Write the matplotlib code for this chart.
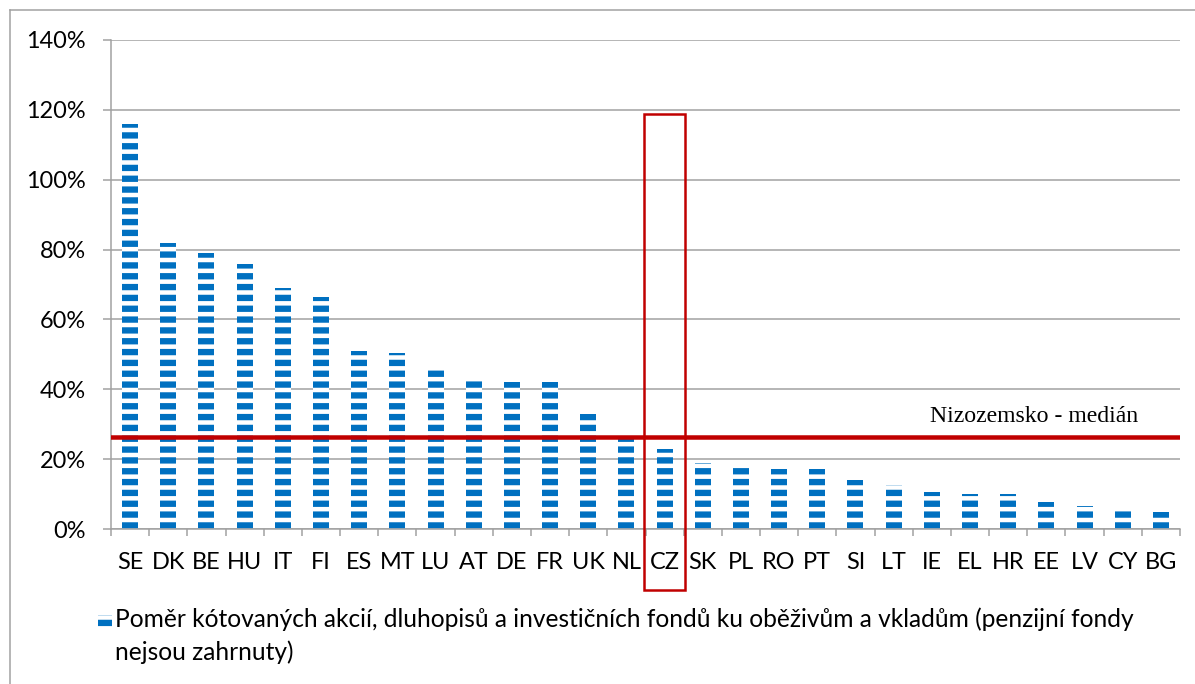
import matplotlib
matplotlib.use("Agg")
import matplotlib.pyplot as plt
from matplotlib.patches import Rectangle
from matplotlib.lines import Line2D
import numpy as np

countries = ["SE", "DK", "BE", "HU", "IT", "FI", "ES", "MT", "LU", "AT", "DE", "FR", "UK", "NL",
             "CZ", "SK", "PL", "RO", "PT", "SI", "LT", "IE", "EL", "HR", "EE", "LV", "CY", "BG"]
ratio = [116, 82, 79, 76, 69, 66.5, 51, 50.5, 46.3, 43.2, 42, 42, 32.8, 26.3,
         23, 19, 18.6, 17.2, 17.1, 14, 12.6, 10.6, 10.1, 10.1, 7.8, 6.7, 6.1, 5]
median_nl = 26.3
highlight = "CZ"
ytick_vals = [0, 20, 40, 60, 80, 100, 120, 140]
legend_lines = ["Poměr kótovaných akcií, dluhopisů a investičních fondů ku oběživům a vkladům (penzijní fondy",
                "nejsou zahrnuty)"]
median_label = "Nizozemsko - medián"

W, H, DPI = 1195, 684, 65
BLUE = "#0070C0"
RED = "#C00000"
GRID = "#a0a0a0"

plt.rcParams["font.family"] = ["Lato", "DejaVu Sans"]
plt.rcParams["hatch.linewidth"] = 7.0
px = 72 / DPI  # points per pixel

fig = plt.figure(figsize=(W / DPI, H / DPI), dpi=DPI)
ax = fig.add_axes([111 / W, 1 - 529 / H, (1180 - 111) / W, (529 - 40) / H])

x = np.arange(len(countries))
ax.bar(x, ratio, width=0.42, facecolor="white", edgecolor=BLUE, linewidth=0, hatch="-", zorder=2)

ax.set_xlim(-0.5, len(countries) - 0.5)
ax.set_ylim(0, 140)
ax.set_yticks(ytick_vals)
ax.set_yticklabels([f"{v}%" for v in ytick_vals])
ax.yaxis.grid(True, color=GRID, linewidth=1.5 * px, zorder=0)
ax.set_axisbelow(True)

ax.set_xticks(x)
ax.set_xticklabels(countries)
ax.set_xticks(np.arange(len(countries) + 1) - 0.5, minor=True)
ax.tick_params(axis="x", which="major", length=0, pad=25, labelsize=26)
ax.tick_params(axis="x", which="minor", length=7 * px, width=1.5 * px, color=GRID)
ax.tick_params(axis="y", length=8 * px, width=1.5 * px, color=GRID, pad=19, labelsize=26)

for s in ["top", "right"]:
    ax.spines[s].set_visible(False)
for s in ["left", "bottom"]:
    ax.spines[s].set_color(GRID)
    ax.spines[s].set_linewidth(1.5 * px)

# median line
ax.axhline(median_nl, color=RED, linewidth=4.5 * px, zorder=3)
ax.text(0.766, 30.7, median_label, transform=ax.get_yaxis_transform(), family="Liberation Serif",
        fontsize=26.3, va="baseline", ha="left")

# highlight rectangle around CZ
ci = countries.index(highlight)
rect = Rectangle((ci - 0.54, -17.6), 1.08, 118.8 + 17.6, fill=False, edgecolor=RED,
                 linewidth=2.5 * px, clip_on=False, zorder=4)
ax.add_patch(rect)

# legend
fig.add_artist(Rectangle((98 / W, 1 - 628 / H), 14 / W, 13 / H, transform=fig.transFigure,
                         facecolor="white", edgecolor=BLUE, linewidth=0, hatch="-"))
fig.text(115 / W, 1 - 627 / H, legend_lines[0], fontsize=27.2, va="baseline", ha="left")
fig.text(115 / W, 1 - 660 / H, legend_lines[1], fontsize=27.2, va="baseline", ha="left")

# chart area border
fig.add_artist(Line2D([10 / W, 1], [1 - 10 / H, 1 - 10 / H], transform=fig.transFigure, color=GRID, linewidth=1.5 * px))
fig.add_artist(Line2D([10 / W, 10 / W], [0, 1 - 10 / H], transform=fig.transFigure, color=GRID, linewidth=1.5 * px))

fig.savefig("out.png", dpi=DPI)
